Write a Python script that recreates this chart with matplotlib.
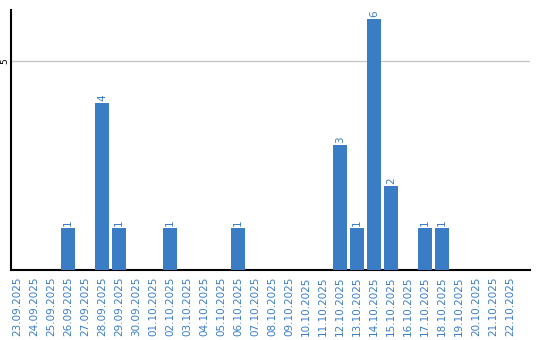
import matplotlib
matplotlib.use("Agg")
import matplotlib.pyplot as plt

dates = ["23.09.2025", "24.09.2025", "25.09.2025", "26.09.2025", "27.09.2025", "28.09.2025",
         "29.09.2025", "30.09.2025", "01.10.2025", "02.10.2025", "03.10.2025", "04.10.2025",
         "05.10.2025", "06.10.2025", "07.10.2025", "08.10.2025", "09.10.2025", "10.10.2025",
         "11.10.2025", "12.10.2025", "13.10.2025", "14.10.2025", "15.10.2025", "16.10.2025",
         "17.10.2025", "18.10.2025", "19.10.2025", "20.10.2025", "21.10.2025", "22.10.2025"]
counts = [0, 0, 0, 1, 0, 4, 1, 0, 0, 1, 0, 0, 0, 1, 0, 0, 0, 0, 0, 3, 1, 6, 2, 0, 1, 1, 0, 0, 0, 0]

blue = "#3a7dc4"
fig = plt.figure(figsize=(5.4, 3.4), dpi=100)
ax = fig.add_axes([11/540, 1 - 270/340, 519/540, 260/340])
x = list(range(len(dates)))
ax.bar(x, counts, width=14/17, color=blue, zorder=3)
for xi, v in zip(x, counts):
    if v > 0:
        ax.text(xi, v + 0.05, str(v), rotation=90, ha="center", va="bottom",
                color=blue, fontsize=7.5)
ax.set_xlim(-6/17, 29 + 20/17)
ax.set_ylim(0, 6.22)
ax.set_yticks([5])
ax.set_yticklabels(["5"], rotation=90, va="center", fontsize=6.5)
ax.tick_params(axis="y", length=0, pad=1)
ax.yaxis.grid(True, color="#c8c8c8", linewidth=1, zorder=0)
ax.set_xticks(x)
ax.set_xticklabels(dates, rotation=90, color=blue, fontsize=7.5)
ax.tick_params(axis="x", length=0, pad=5)
for s in ["top", "right"]:
    ax.spines[s].set_visible(False)
ax.spines["left"].set_linewidth(1.5)
ax.spines["bottom"].set_linewidth(1.5)
fig.savefig("out.png", dpi=100)
